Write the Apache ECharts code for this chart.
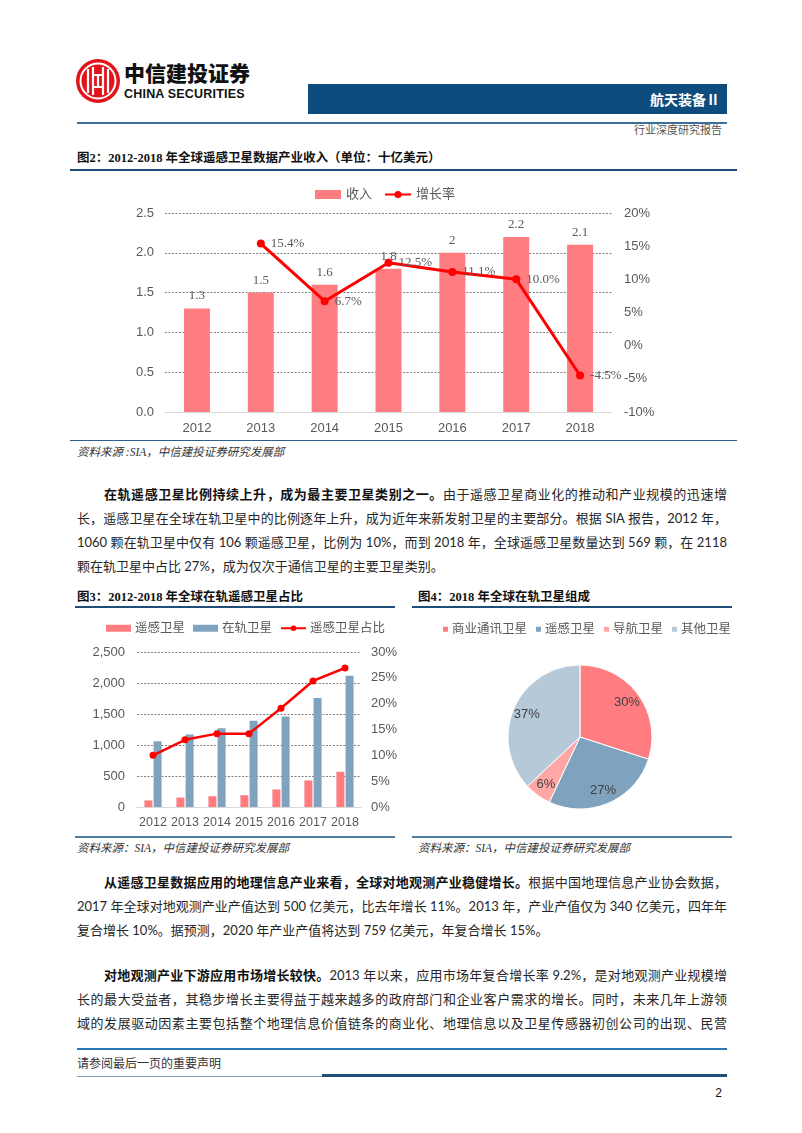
<!DOCTYPE html>
<html><head><meta charset="utf-8">
<script src="https://cdn.jsdelivr.net/npm/echarts@6/dist/echarts.min.js"></script>
<style>
html,body{margin:0;padding:0;background:#fff;}
body{width:802px;height:1133px;position:relative;overflow:hidden;font-family:"Lato","Noto Sans CJK SC",sans-serif;color:#222;}
.abs{position:absolute;}
.ln{position:absolute;left:77px;width:650px;font-size:13px;line-height:18px;text-align:justify;text-align-last:justify;white-space:nowrap;color:#262626;}
.ln.first{left:104px;width:623px;}
.ln.last{text-align-last:left;}
.ln b{font-weight:700;color:#111;}
.ttl{position:absolute;font-family:"Liberation Serif","Noto Sans CJK SC",serif;font-weight:700;font-size:12.5px;color:#111;line-height:16px;}
.src{position:absolute;font-family:"Liberation Serif","Noto Sans CJK SC",serif;font-style:italic;font-size:11.5px;color:#333;line-height:14px;}
.rule{position:absolute;background:#1F4E79;}
</style></head>
<body>
<script>
// ---------- data ----------
const years = ['2012','2013','2014','2015','2016','2017','2018'];
const revenue = [1.3, 1.5, 1.6, 1.8, 2, 2.2, 2.1];
const growth = [null, 15.4, 6.7, 12.5, 11.1, 10.0, -4.5];
const rsSats = [106, 152, 174, 190, 283, 429, 569];
const orbitSats = [1060, 1170, 1270, 1390, 1460, 1760, 2118];
const rsShare = [10.0, 13.0, 14.2, 14.2, 19.1, 24.4, 26.9];
const pieNames = ['商业通讯卫星', '遥感卫星', '导航卫星', '其他卫星'];
const pieValues = [30, 27, 6, 37];
const fig2Legend = ['收入', '增长率'];
const fig3Legend = ['遥感卫星', '在轨卫星', '遥感卫星占比'];
</script>

<!-- header -->
<svg class="abs" style="left:74px;top:57px" width="48" height="48" viewBox="0 0 48 48">
  <circle cx="24" cy="24" r="22" fill="#E2141B"/>
  <circle cx="24" cy="24" r="17.5" fill="none" stroke="#fff" stroke-width="2"/>
  <path d="M14 12 L14 36 M34 12 L34 36 M19 10 L19 38 M29 10 L29 38" stroke="#fff" stroke-width="2.2" fill="none"/>
  <path d="M19 18 H29 M19 30 H29" stroke="#fff" stroke-width="2" fill="none"/>
  <path d="M24 18 V30" stroke="#fff" stroke-width="2.2"/>
</svg>
<div class="abs" style="left:124px;top:59px;font-family:'Noto Sans CJK SC';font-weight:900;font-size:21px;line-height:26px;color:#111;">中信建投证券</div>
<div class="abs" style="left:124px;top:87px;font-family:'Liberation Sans';font-weight:700;font-size:12.5px;line-height:14px;color:#111;letter-spacing:0.2px;">CHINA SECURITIES</div>
<div class="abs" style="left:308px;top:84px;width:419px;height:30px;background:#0E4C7E;"></div>
<div class="abs" style="left:560px;top:89px;width:160px;text-align:right;font-family:'Noto Sans CJK SC';font-weight:700;font-size:14px;line-height:20px;color:#fff;">航天装备Ⅱ</div>
<div class="abs" style="left:77px;top:122px;width:650px;height:1.5px;background:#3A6E9C;"></div>
<div class="abs" style="left:560px;top:121px;width:162px;text-align:right;font-family:'Noto Sans CJK SC';font-size:11px;line-height:16px;color:#555;">行业深度研究报告</div>

<!-- figure 2 -->
<div class="ttl" style="left:77px;top:150px;">图2：2012-2018 年全球遥感卫星数据产业收入（单位：十亿美元）</div>
<div class="rule" style="left:70px;top:169px;width:667px;height:2px;"></div>
<div id="c1" class="abs" style="left:70px;top:175px;width:667px;height:264px;"></div>
<div class="rule" style="left:70px;top:440px;width:667px;height:1px;background:#2E5F8A;"></div>
<div class="src" style="left:77px;top:445px;">资料来源 :SIA，中信建投证券研究发展部</div>

<!-- paragraph 1 -->
<div class="ln first" style="top:485px;"><b>在轨遥感卫星比例持续上升，成为最主要卫星类别之一。</b>由于遥感卫星商业化的推动和产业规模的迅速增</div>
<div class="ln" style="top:509px;">长，遥感卫星在全球在轨卫星中的比例逐年上升，成为近年来新发射卫星的主要部分。根据 SIA 报告，2012 年，</div>
<div class="ln" style="top:533px;">1060 颗在轨卫星中仅有 106 颗遥感卫星，比例为 10%，而到 2018 年，全球遥感卫星数量达到 569 颗，在 2118</div>
<div class="ln last" style="top:557px;">颗在轨卫星中占比 27%，成为仅次于通信卫星的主要卫星类别。</div>

<!-- figure 3 -->
<div class="ttl" style="left:77px;top:589px;">图3：2012-2018 年全球在轨遥感卫星占比</div>
<div class="rule" style="left:75px;top:606px;width:320px;height:2px;"></div>
<div id="c3" class="abs" style="left:70px;top:612px;width:330px;height:223px;"></div>
<div class="rule" style="left:75px;top:836px;width:320px;height:1.5px;background:#4F7F9E;"></div>
<div class="src" style="left:77px;top:841px;">资料来源：SIA，中信建投证券研究发展部</div>

<!-- figure 4 -->
<div class="ttl" style="left:418px;top:589px;">图4：2018 年全球在轨卫星组成</div>
<div class="rule" style="left:412px;top:606px;width:320px;height:2px;"></div>
<div id="c4" class="abs" style="left:405px;top:612px;width:335px;height:223px;"></div>
<div class="rule" style="left:412px;top:836px;width:320px;height:1.5px;background:#4F7F9E;"></div>
<div class="src" style="left:418px;top:841px;">资料来源：SIA，中信建投证券研究发展部</div>

<!-- paragraph 3 -->
<div class="ln first" style="top:873px;"><b>从遥感卫星数据应用的地理信息产业来看，全球对地观测产业稳健增长。</b>根据中国地理信息产业协会数据，</div>
<div class="ln" style="top:897px;">2017 年全球对地观测产业产值达到 500 亿美元，比去年增长 11%。2013 年，产业产值仅为 340 亿美元，四年年</div>
<div class="ln last" style="top:921px;">复合增长 10%。据预测，2020 年产业产值将达到 759 亿美元，年复合增长 15%。</div>

<!-- paragraph 4 -->
<div class="ln first" style="top:966px;"><b>对地观测产业下游应用市场增长较快。</b>2013 年以来，应用市场年复合增长率 9.2%，是对地观测产业规模增</div>
<div class="ln" style="top:990px;">长的最大受益者，其稳步增长主要得益于越来越多的政府部门和企业客户需求的增长。同时，未来几年上游领</div>
<div class="ln" style="top:1014px;">域的发展驱动因素主要包括整个地理信息价值链条的商业化、地理信息以及卫星传感器初创公司的出现、民营</div>

<!-- footer -->
<div class="abs" style="left:77px;top:1048px;width:650px;height:1.5px;background:#2E75B6;"></div>
<div class="abs" style="left:77px;top:1055px;font-family:'Noto Sans CJK SC';font-size:12px;line-height:16px;color:#333;">请参阅最后一页的重要声明</div>
<div class="abs" style="left:77px;top:1076px;width:245px;height:1px;background:#8A9BAA;"></div>
<div class="abs" style="left:322px;top:1074px;width:405px;height:3px;background:#1F4E79;"></div>
<div class="abs" style="left:700px;top:1085px;width:22px;text-align:right;font-family:'Liberation Sans';font-size:12px;line-height:16px;color:#111;">2</div>

<script>
const serif = '"Liberation Serif","Noto Sans CJK SC",serif';
const sans = '"Liberation Sans","Noto Sans CJK SC",sans-serif';
const gray = '#595959';

// ---------- Figure 2 ----------
const c1 = echarts.init(document.getElementById('c1'));
c1.setOption({
  animation: false,
  legend: {
    left: 240, top: 8, itemGap: 12, itemWidth: 26, itemHeight: 9,
    textStyle: {fontFamily: serif, fontSize: 13, color: gray},
    data: [{name: fig2Legend[0], icon: 'rect'}, {name: fig2Legend[1]}]
  },
  grid: {left: 95, right: 125, top: 38, bottom: 27},
  xAxis: {
    type: 'category', data: years,
    axisTick: {show: false},
    axisLine: {lineStyle: {color: '#D9D9D9', width: 1}},
    axisLabel: {color: gray, fontSize: 13, fontFamily: sans, margin: 10, interval: 0}
  },
  yAxis: [
    {type: 'value', min: 0, max: 2.5, interval: 0.5,
     axisLine: {show: false}, axisTick: {show: false},
     axisLabel: {color: gray, fontSize: 13, fontFamily: sans, margin: 11, formatter: v => v.toFixed(1)},
     splitLine: {lineStyle: {color: '#7F7F7F', type: [2, 1.5], width: 1}}},
    {type: 'value', min: -10, max: 20, interval: 5, position: 'right',
     axisLine: {show: false}, axisTick: {show: false},
     axisLabel: {color: gray, fontSize: 13, fontFamily: sans, margin: 12, formatter: '{value}%'},
     splitLine: {show: false}}
  ],
  series: [
    {name: fig2Legend[0], type: 'bar', data: revenue, barWidth: 26,
     itemStyle: {color: '#FF7C80'},
     label: {show: true, position: 'top', distance: 6, color: gray, fontFamily: serif, fontSize: 13,
             formatter: p => String(p.value)}},
    {name: fig2Legend[1], type: 'line', yAxisIndex: 1, data: growth,
     symbol: 'circle', symbolSize: 8, connectNulls: false,
     lineStyle: {color: '#FF0000', width: 3}, itemStyle: {color: '#FF0000'},
     label: {show: true, position: 'right', distance: 6, color: gray, fontFamily: serif, fontSize: 13,
             formatter: p => p.value.toFixed(1) + '%'}}
  ]
});

// ---------- Figure 3 ----------
const c3 = echarts.init(document.getElementById('c3'));
c3.setOption({
  animation: false,
  legend: {
    left: 36, top: 10, padding: 0, itemGap: 8, itemWidth: 25, itemHeight: 7,
    textStyle: {fontFamily: serif, fontSize: 12.5, color: gray, padding: [0, 0, 0, -1]},
    data: [{name: fig3Legend[0], icon: 'rect'}, {name: fig3Legend[1], icon: 'rect'}, {name: fig3Legend[2]}]
  },
  grid: {left: 67, right: 37, top: 40, bottom: 28},
  xAxis: {
    type: 'category', data: years,
    axisTick: {show: false},
    axisLine: {lineStyle: {color: '#D9D9D9'}},
    axisLabel: {color: gray, fontSize: 12.5, fontFamily: sans, margin: 9, interval: 0}
  },
  yAxis: [
    {type: 'value', min: 0, max: 2500, interval: 500,
     axisLine: {show: false}, axisTick: {show: false},
     axisLabel: {color: gray, fontSize: 13, fontFamily: sans, margin: 12,
                 formatter: v => v.toLocaleString('en-US')},
     splitLine: {lineStyle: {color: '#7F7F7F', type: [2, 1.5], width: 1}}},
    {type: 'value', min: 0, max: 30, interval: 5, position: 'right',
     axisLine: {show: false}, axisTick: {show: false},
     axisLabel: {color: gray, fontSize: 13, fontFamily: sans, margin: 10, formatter: '{value}%'},
     splitLine: {show: false}}
  ],
  series: [
    {name: fig3Legend[0], type: 'bar', data: rsSats, barWidth: 8, barGap: '15%',
     itemStyle: {color: '#FF7C80'}},
    {name: fig3Legend[1], type: 'bar', data: orbitSats, barWidth: 8,
     itemStyle: {color: '#7FA3BE'}},
    {name: fig3Legend[2], type: 'line', yAxisIndex: 1, data: rsShare,
     symbol: 'circle', symbolSize: 7,
     lineStyle: {color: '#FF0000', width: 2.5}, itemStyle: {color: '#FF0000'}}
  ]
});

// ---------- Figure 4 ----------
const pieColors = ['#FF7C80', '#7FA3BE', '#FFA6A6', '#B6C9D9'];
const pieData = pieNames.map((n, i) => ({name: n, value: pieValues[i], itemStyle: {color: pieColors[i]}}));
const c4 = echarts.init(document.getElementById('c4'));
c4.setOption({
  animation: false,
  legend: {
    left: 36, top: 11, padding: 0, itemGap: 7, itemWidth: 7, itemHeight: 7, icon: 'rect',
    textStyle: {fontFamily: serif, fontSize: 12.5, color: gray, padding: [0, 0, 0, -2]},
    data: pieNames
  },
  series: [
    {type: 'pie', center: [175, 125], radius: [0, 72], startAngle: 90, clockwise: true,
     data: pieData, label: {show: false}, labelLine: {show: false},
     itemStyle: {borderColor: '#fff', borderWidth: 1}, emphasis: {disabled: true}},
    {type: 'pie', center: [175, 125], radius: [38, 72], startAngle: 90, clockwise: true, silent: true,
     data: pieNames.map((n, i) => ({name: n, value: pieValues[i]})),
     itemStyle: {color: 'rgba(0,0,0,0)'},
     label: {show: true, position: 'inside', color: '#404040', fontFamily: sans, fontSize: 13,
             formatter: p => p.value + '%'},
     labelLine: {show: false}, legendHoverLink: false}
  ]
});
</script>
</body></html>
